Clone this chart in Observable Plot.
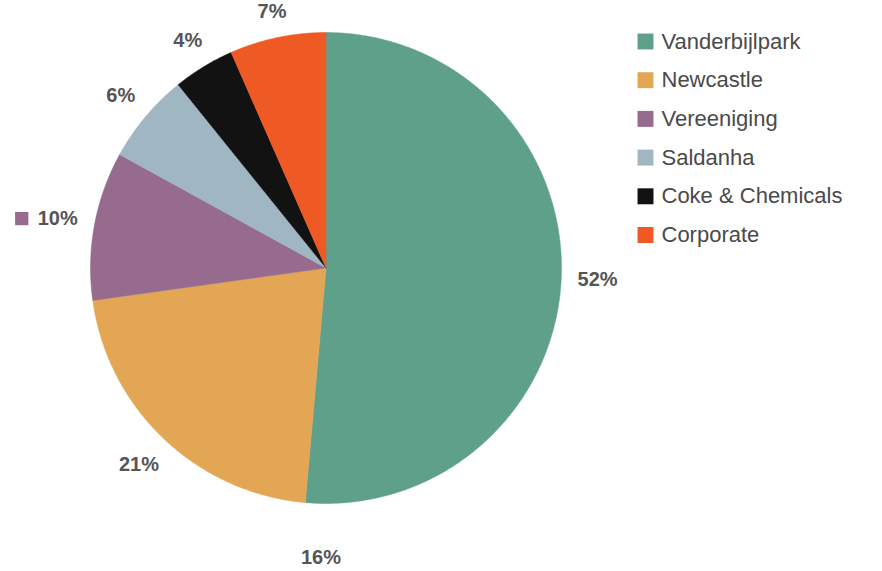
<!DOCTYPE html>
<html>
<head>
<meta charset="utf-8">
<script src="https://cdn.jsdelivr.net/npm/d3@7"></script>
<script src="https://cdn.jsdelivr.net/npm/@observablehq/plot@0.6"></script>
<style>
  html, body { margin: 0; padding: 0; background: #fff; }
  #chart { width: 882px; height: 571px; }
</style>
</head>
<body>
<div id="chart"></div>
<script>
const categories = ["Vanderbijlpark", "Newcastle", "Vereeniging", "Saldanha", "Coke & Chemicals", "Corporate"];
const shares = [51.4, 21.4, 10.2, 6.2, 4.2, 6.6];
const labelTexts = ["52%", "21%", "10%", "6%", "4%", "7%"];
const colors = ["#5fa08b", "#e2a654", "#976b8e", "#a0b6c2", "#121212", "#ef5a24"];
// stray data label shown in the original (below the pie)
const strayLabels = ["16%"];
const strayAngleDeg = [181];

// ---- layout ----
const W = 882, H = 571;
const cx = 325.5, cy = 267.5, R = 235.5;
const labelGap = 15;
const strayR = 290;
const labelFont = 20;

const pie = d3.pie().sort(null).value(d => d)(shares);

const slicePts = [];
pie.forEach((p, i) => {
  const cat = categories[i];
  slicePts.push({cat, x: cx, y: cy});
  const steps = Math.max(2, Math.ceil((p.endAngle - p.startAngle) / (Math.PI / 360)));
  for (let k = 0; k <= steps; k++) {
    const a = p.startAngle + (p.endAngle - p.startAngle) * k / steps;
    slicePts.push({cat, x: cx + R * Math.sin(a), y: cy - R * Math.cos(a)});
  }
  slicePts.push({cat, x: cx, y: cy});
});

// outside-end labels: the label box just clears the rim
const labels = pie.map((p, i) => {
  const a = (p.startAngle + p.endAngle) / 2;
  const t = labelTexts[i];
  const halfW = (t.length - 1) * 0.3 * labelFont + 0.45 * labelFont;
  const halfH = 0.45 * labelFont;
  const r = R + labelGap + Math.abs(Math.sin(a)) * halfW + Math.abs(Math.cos(a)) * halfH;
  return {cat: categories[i], text: t, x: cx + r * Math.sin(a), y: cy - r * Math.cos(a)};
});
const stray = strayLabels.map((t, i) => {
  const a = strayAngleDeg[i] * Math.PI / 180;
  return {text: t, x: cx + strayR * Math.sin(a), y: cy - strayR * Math.cos(a)};
});
// legend-key marker beside the Vereeniging data label
const keyed = labels.filter(d => d.cat === "Vereeniging").map(d => ({cat: d.cat, x: d.x - 36, y: d.y}));

const legend = categories.map((c, i) => ({cat: c, x: 645, y: 41 + i * 38.7}));

const font = "'Liberation Sans', Arial, Helvetica, sans-serif";

const chart = Plot.plot({
  width: W,
  height: H,
  margin: 0,
  style: {fontFamily: font, background: "#fff"},
  x: {domain: [0, W], range: [0, W], axis: null},
  y: {domain: [0, H], range: [0, H], axis: null},
  color: {domain: categories, range: colors},
  marks: [
    Plot.line(slicePts, {x: "x", y: "y", z: "cat", fill: "cat", stroke: "cat", strokeWidth: 0.5, curve: "linear"}),
    Plot.text(labels, {x: "x", y: "y", text: "text", fontSize: labelFont, fontWeight: "bold", fill: "#555555", letterSpacing: "0.8px"}),
    Plot.text(stray, {x: "x", y: "y", text: "text", fontSize: labelFont, fontWeight: "bold", fill: "#555555", letterSpacing: "0.8px"}),
    Plot.dot(keyed, {x: "x", y: "y", fill: "cat", symbol: "square", r: 7.5, stroke: null}),
    Plot.dot(legend, {x: "x", y: "y", fill: "cat", symbol: "square", r: 9, stroke: null}),
    Plot.text(legend, {x: d => d.x + 16, y: "y", text: "cat", textAnchor: "start", fontSize: 22, fill: "#4a4a4a", letterSpacing: "1.2px"})
  ]
});
document.getElementById("chart").appendChild(chart);
</script>
</body>
</html>
